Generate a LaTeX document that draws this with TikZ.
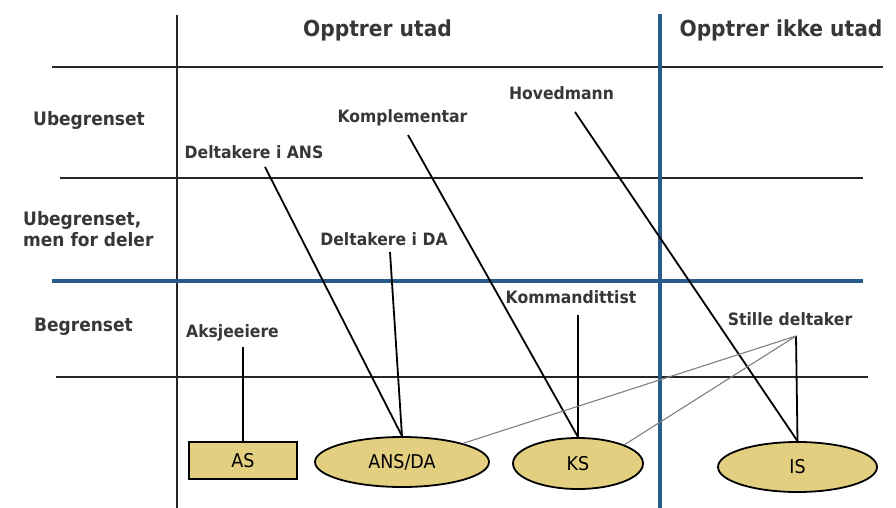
\documentclass[tikz,border=0pt]{standalone}
\usepackage{fontspec}
\setmainfont{DejaVu Sans}[FakeStretch=0.92]
\usetikzlibrary{shapes.geometric}
\definecolor{gridblue}{RGB}{40,90,140}
\definecolor{tanfill}{RGB}{226,207,128}
\definecolor{txt}{RGB}{55,55,55}
\begin{document}
\begin{tikzpicture}[x=1pt,y=-1pt,
  grid/.style={line width=2pt, black!85},
  bgrid/.style={line width=4.5pt, gridblue},
  title/.style={font=\fontsize{22}{26}\selectfont\bfseries, text=txt, inner sep=0, anchor=base},
  rowlab/.style={font=\fontsize{18.5}{22}\selectfont\bfseries, text=txt, inner sep=0, anchor=base},
  lab/.style={font=\fontsize{17}{20}\selectfont\bfseries, text=txt, inner sep=0, anchor=base},
  form/.style={draw, line width=1.8pt, fill=tanfill, font=\fontsize{19}{22}\selectfont, inner sep=0},
  link/.style={line width=1.8pt},
  silent/.style={line width=1.1pt, gray}]
\fill[white] (0,0) rectangle (896,508);
\useasboundingbox (0,0) rectangle (896,508);
% grid
\draw[grid] (52,67) -- (883,67);
\draw[grid] (60,178) -- (863,178);
\draw[grid] (56,377) -- (868,377);
\draw[grid] (177,15) -- (177,508);
\draw[bgrid] (52,281) -- (863,281);
\draw[bgrid] (660,14) -- (660,508);
% headings
\node[title] (t1) at (377.5,37) {Opptrer utad};
\node[title] (t2) at (781,37) {Opptrer ikke utad};
\node[rowlab] (r1) at (89,125) {Ubegrenset};
\node[rowlab, anchor=base west] (r2a) at (23,225) {Ubegrenset,};
\node[rowlab, anchor=base west] (r2b) at (23,246) {men for deler};
\node[rowlab] (r3) at (83.5,331) {Begrenset};
% labels
\node[lab] (dans) at (254,158) {Deltakere i ANS};
\node[lab] (kompl) at (402.5,123) {Komplementar};
\node[lab] (hoved) at (561.5,100) {Hovedmann};
\node[lab] (dda) at (384,245) {Deltakere i DA};
\node[lab] (komm) at (571,303) {Kommandittist};
\node[lab] (stille) at (790,325) {Stille deltaker};
\node[lab] (aksj) at (232.5,337) {Aksjeeiere};
% forms
\node[form, rectangle, minimum width=108pt, minimum height=37pt] (as) at (243,460.5) {AS};
\node[form, ellipse, minimum width=174pt, minimum height=50pt] (ans) at (402,462) {ANS/DA};
\node[form, ellipse, minimum width=130pt, minimum height=51pt] (ks) at (578,463.5) {KS};
\node[form, ellipse, minimum width=159pt, minimum height=50pt] (is) at (797.5,467) {IS};
% connector ends
\coordinate (cans) at (265,167);
\coordinate (cda) at (390,252);
\coordinate (ckom) at (408,135);
\coordinate (chov) at (575,112);
\coordinate (ckomm) at (578,315);
\coordinate (cstil) at (796,336);
\coordinate (caks) at (243,347);
% connectors
\draw[link] (cans) -- (ans.north);
\draw[link] (cda) -- (ans.north);
\draw[link] (ckom) -- (ks.north);
\draw[link] (chov) -- (is.north);
\draw[link] (ckomm) -- (ks.north);
\draw[link] (caks) -- (as.north);
\draw[link] (cstil) -- (is.north);
\draw[silent] (cstil) -- (ans.17);
\draw[silent] (cstil) -- (ks.22);
\end{tikzpicture}
\end{document}
